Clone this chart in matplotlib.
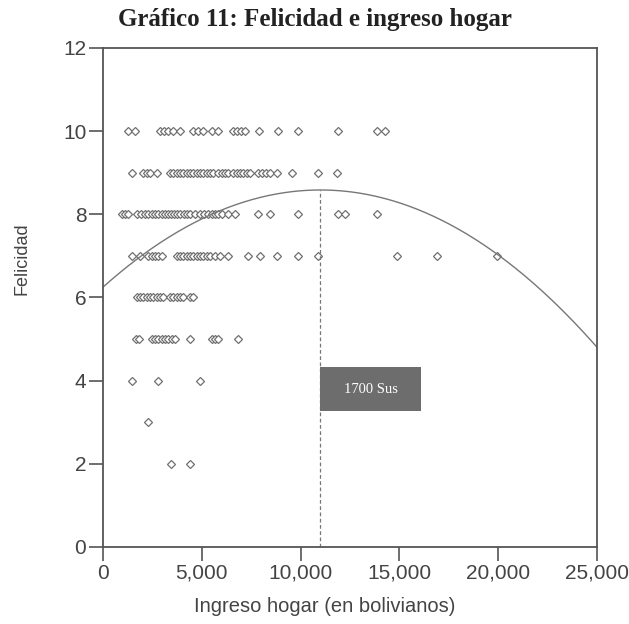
import numpy as np
import matplotlib.pyplot as plt
from matplotlib.patches import Rectangle

# ingreso (Bs) por nivel de felicidad
ingreso_10 = [1270, 1620, 2880, 3090, 3290, 3540, 3900, 4550, 4810, 5060, 5520, 5820,
              6580, 6780, 6980, 7190, 7890, 8860, 9870, 11890, 13860, 14270]
ingreso_9 = [1470, 2020, 2230, 2380, 2730, 3390, 3540, 3740, 3900, 4050, 4250, 4400,
             4550, 4760, 4910, 5060, 5260, 5410, 5570, 5820, 6020, 6170, 6330, 6580,
             6780, 6930, 7080, 7290, 7440, 7840, 8050, 8250, 8450, 8800, 9560, 10880, 11840]
ingreso_8 = [960, 1110, 1270, 1720, 1920, 2130, 2280, 2480, 2630, 2780, 2990, 3140,
             3290, 3440, 3590, 3740, 3900, 4100, 4250, 4400, 4660, 4910, 5110, 5310,
             5520, 5670, 5820, 6020, 6330, 6680, 7840, 8450, 9870, 11890, 12250, 13860]
ingreso_7 = [1470, 1870, 2280, 2480, 2630, 2780, 2990, 3740, 3900, 4050, 4250, 4400,
             4550, 4760, 4910, 5060, 5260, 5410, 5670, 5920, 6330, 7340, 7940, 8800,
             9870, 10880, 14880, 16900, 19940]
ingreso_6 = [1720, 1870, 2020, 2230, 2380, 2530, 2730, 2880, 3040, 3390, 3540, 3740,
             3900, 4050, 4400, 4550]
ingreso_5 = [1670, 1820, 2480, 2630, 2780, 2990, 3140, 3290, 3490, 3640, 4400, 5520,
             5670, 5820, 6830]
ingreso_4 = [1470, 2780, 4910]
ingreso_3 = [2280]
ingreso_2 = [3440, 4400]

filas = {10: ingreso_10, 9: ingreso_9, 8: ingreso_8, 7: ingreso_7, 6: ingreso_6,
         5: ingreso_5, 4: ingreso_4, 3: ingreso_3, 2: ingreso_2}

# ajuste cuadratico felicidad ~ ingreso
coef = [6.25, 4.246e-4, -1.93e-8]
x_max = 11000
etiqueta = "1700 Sus"

fuente = 'Liberation Sans'

fig = plt.figure(figsize=(6.29, 6.24), dpi=100)
ax = fig.add_axes([0.1638, 0.1234, 0.7854, 0.7997])

for fel, xs in filas.items():
    ax.plot(xs, [fel] * len(xs), linestyle='none', marker='D', ms=4.0,
            mfc='white', mec='#707070', mew=0.9)

xx = np.linspace(0, 25000, 300)
yy = coef[0] + coef[1] * xx + coef[2] * xx ** 2
ax.plot(xx, yy, color='#777777', lw=1.0)

y_peak = coef[0] + coef[1] * x_max + coef[2] * x_max ** 2
ax.plot([x_max, x_max], [0, y_peak], color='#777777', lw=0.9, ls=(0, (3, 2)))

# recuadro con la etiqueta del maximo
ax.add_patch(Rectangle((x_max, 3.26), 5100, 1.06, fc='#6d6d6d', ec='none', zorder=3))
ax.text(x_max + 2550, 3.79, etiqueta, ha='center', va='center', color='white',
        family='Liberation Serif', fontsize=10.5, zorder=4)

ax.set_xlim(0, 25000)
ax.set_ylim(0, 12)
ax.set_xticks(range(0, 25001, 5000))
ax.set_xticklabels([f"{v:,}" for v in range(0, 25001, 5000)])
ax.set_yticks(range(0, 13, 2))

for s in ax.spines.values():
    s.set_color('#555555')
    s.set_linewidth(1.3)
ax.tick_params(direction='out', length=10, width=1.2, color='#555555',
               labelcolor='#444444', labelsize=15, pad=2)
for lab in ax.get_xticklabels() + ax.get_yticklabels():
    lab.set_family(fuente)

ax.set_xlabel('Ingreso hogar (en bolivianos)', family=fuente, fontsize=14.5,
              color='#444444')
ax.xaxis.set_label_coords(0.449, -0.100)
ax.set_ylabel('Felicidad', family=fuente, fontsize=13, color='#444444')
ax.yaxis.set_label_coords(-0.146, 0.577)

fig.text(0.5, 0.968, 'Gráfico 11: Felicidad e ingreso hogar', ha='center', va='center',
         family='Liberation Serif', fontweight='bold', fontsize=18, color='#222222')

fig.savefig('out.png', dpi=100)
